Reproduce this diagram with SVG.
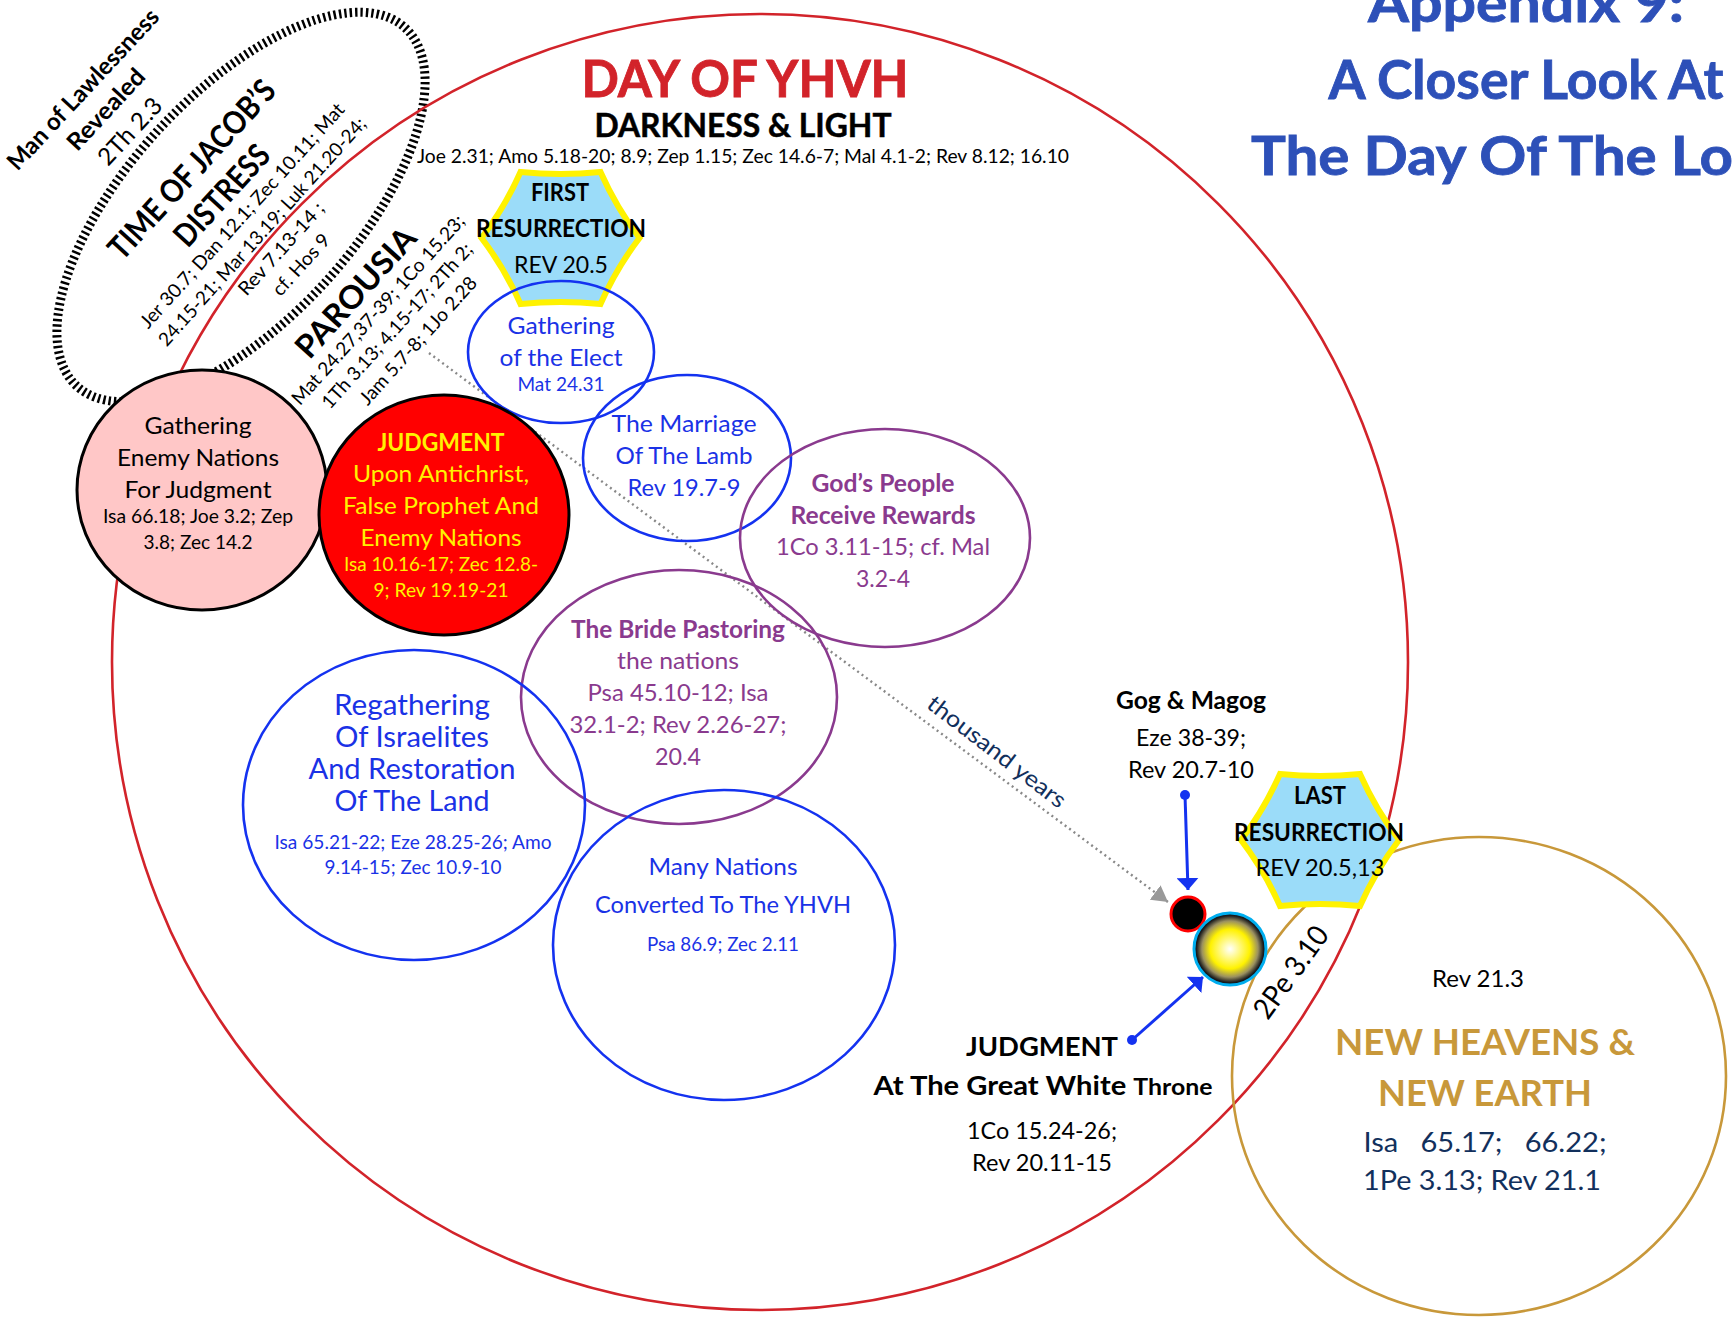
<svg xmlns="http://www.w3.org/2000/svg" width="1733" height="1323" viewBox="0 0 1733 1323">
<style>
text{font-family:"Lato","Open Sans",sans-serif;text-anchor:middle;fill:#000;font-size:24px}
.b{font-weight:700}
.s{font-size:19px}
.blue{fill:#1a32e6}
.pur{fill:#8a3a8e}
.yel{fill:#fff200}
.navy{fill:#12305c}
.gold{fill:#c8983a}
.ttl{fill:#2d50b8;stroke:#2d50b8;stroke-width:.8;font-weight:700;font-size:53px}
.e{fill:none;stroke-width:2.6}
.eb{stroke:#1432f0}
.ep{stroke:#8a3a8e}
.hex{fill:#9bdcf9;stroke:#fff200;stroke-width:6}
.conn{stroke:#1432f0;stroke-width:3;fill:none}
</style>
<defs>
<path id="hexa" d="M-40 -66Q0 -62 40 -66Q56 -30 79 0Q56 30 40 66Q0 62 -40 66Q-56 30 -79 0Q-56 -30 -40 -66Z"/>
<radialGradient id="sun"><stop offset="0" stop-color="#fff"/><stop offset=".55" stop-color="#fff200"/><stop offset=".78" stop-color="#9a9060"/><stop offset=".92" stop-color="#222"/><stop offset="1" stop-color="#000"/></radialGradient>
<marker id="ah" markerUnits="userSpaceOnUse" markerWidth="14" markerHeight="22" refX="12" refY="11" orient="auto"><path d="M0 0L12 11L0 22Z" fill="#1432f0"/></marker>
<marker id="dot" markerUnits="userSpaceOnUse" markerWidth="12" markerHeight="12" refX="6" refY="6"><circle cx="6" cy="6" r="5" fill="#1432f0"/></marker>
<marker id="gh" markerUnits="userSpaceOnUse" markerWidth="20" markerHeight="18" refX="16" refY="9" orient="auto"><path d="M0 0L16 9L0 18Z" fill="#999"/></marker>
</defs>
<rect width="1733" height="1323" fill="#fff"/>

<g id="title">
<text class="ttl" x="1526" y="22" textLength="316" lengthAdjust="spacingAndGlyphs">Appendix 9:</text>
<text class="ttl" x="1526" y="99" textLength="395" lengthAdjust="spacingAndGlyphs">A Closer Look At</text>
<text class="ttl" x="1492" y="175" textLength="482" lengthAdjust="spacingAndGlyphs">The Day Of The Lo</text>
</g>

<g id="jacob-distress">
<ellipse cx="241" cy="207" rx="243" ry="113" transform="rotate(-47.5 241 207)" fill="none" stroke="#000" stroke-width="9" stroke-dasharray="2.4 3"/>
</g>

<g id="day-of-yhvh">
<circle cx="760" cy="662" r="648" fill="none" stroke="#d2232a" stroke-width="2.6"/>
<text x="745" y="97" class="b" style="font-size:51px;fill:#d2232a;stroke:#d2232a;stroke-width:.8" textLength="327" lengthAdjust="spacingAndGlyphs">DAY OF YHVH</text>
<text x="743" y="137" class="b" style="font-size:32px;stroke:#000;stroke-width:.5" textLength="297" lengthAdjust="spacingAndGlyphs">DARKNESS &amp; LIGHT</text>
<text x="743" y="163" style="font-size:19px" textLength="652" lengthAdjust="spacingAndGlyphs">Joe 2.31; Amo 5.18-20; 8.9; Zep 1.15; Zec 14.6-7; Mal 4.1-2; Rev 8.12; 16.10</text>
</g>

<g id="man-of-lawlessness">
<text class="b" transform="translate(89 95) rotate(-47)" textLength="210" lengthAdjust="spacingAndGlyphs">Man of Lawlessness</text>
<text class="b" transform="translate(112 115) rotate(-47)" textLength="102" lengthAdjust="spacingAndGlyphs">Revealed</text>
<text transform="translate(136 137) rotate(-47)" textLength="82" lengthAdjust="spacingAndGlyphs">2Th 2.3</text>
</g>

<g id="time-of-jacobs-distress">
<text class="b" style="font-size:32px" transform="translate(200 177) rotate(-47.5)" textLength="230" lengthAdjust="spacingAndGlyphs">TIME OF JACOB’S</text>
<text class="b" style="font-size:32px" transform="translate(230 203) rotate(-47.5)" textLength="125" lengthAdjust="spacingAndGlyphs">DISTRESS</text>
<text class="s" transform="translate(247 220) rotate(-48)" textLength="295" lengthAdjust="spacingAndGlyphs">Jer 30.7; Dan 12.1; Zec 10.11; Mat</text>
<text class="s" transform="translate(267 236) rotate(-48)" textLength="300" lengthAdjust="spacingAndGlyphs">24.15-21; Mar 13.19; Luk 21.20-24;</text>
<text class="s" transform="translate(286 253) rotate(-48)" textLength="118" lengthAdjust="spacingAndGlyphs">Rev 7.13-14 ;</text>
<text class="s" transform="translate(306 269) rotate(-48)" textLength="76" lengthAdjust="spacingAndGlyphs">cf. Hos 9</text>
</g>

<g id="parousia">
<text class="b" style="font-size:32px" transform="translate(364 300) rotate(-48)" textLength="163" lengthAdjust="spacingAndGlyphs">PAROUSIA</text>
<text class="s" transform="translate(383 314) rotate(-48)" textLength="248" lengthAdjust="spacingAndGlyphs">Mat 24.27,37-39; 1Co 15.23;</text>
<text class="s" transform="translate(402 330) rotate(-48)" textLength="215" lengthAdjust="spacingAndGlyphs">1Th 3.13; 4.15-17; 2Th 2;</text>
<text class="s" transform="translate(423 345) rotate(-48)" textLength="165" lengthAdjust="spacingAndGlyphs">Jam 5.7-8; 1Jo 2.28</text>
</g>

<g id="new-heavens">
<ellipse cx="1479" cy="1076" rx="247" ry="239" fill="none" stroke="#c8983a" stroke-width="2.6"/>
<text x="1478" y="987" textLength="92" lengthAdjust="spacingAndGlyphs">Rev 21.3</text>
<text x="1485" y="1055" class="b gold" style="font-size:37px" textLength="300" lengthAdjust="spacingAndGlyphs">NEW HEAVENS &amp;</text>
<text x="1485" y="1106" class="b gold" style="font-size:37px" textLength="214" lengthAdjust="spacingAndGlyphs">NEW EARTH</text>
<text x="1485" y="1152" class="navy" style="font-size:27px;white-space:pre" textLength="243" lengthAdjust="spacingAndGlyphs">Isa   65.17;   66.22;</text>
<text x="1482" y="1190" class="navy" style="font-size:27px" textLength="238" lengthAdjust="spacingAndGlyphs">1Pe 3.13; Rev 21.1</text>
<text style="font-size:29px" transform="translate(1299 978) rotate(-54)" textLength="106" lengthAdjust="spacingAndGlyphs">2Pe 3.10</text>
</g>

<g id="connectors">
<line x1="429" y1="353" x2="1168" y2="902" stroke="#888" stroke-width="2.4" stroke-dasharray="2 3.5" marker-end="url(#gh)"/>
<line class="conn" x1="1185" y1="795" x2="1188" y2="890" marker-start="url(#dot)" marker-end="url(#ah)"/>
<line class="conn" x1="1132" y1="1040" x2="1203" y2="977" marker-start="url(#dot)" marker-end="url(#ah)"/>
</g>

<g id="first-resurrection">
<use href="#hexa" class="hex" x="560.5" y="238"/>
<text x="560" y="201" class="b" textLength="58" lengthAdjust="spacingAndGlyphs">FIRST</text>
<text x="561" y="237" class="b" textLength="170" lengthAdjust="spacingAndGlyphs">RESURRECTION</text>
<text x="561" y="273" textLength="94" lengthAdjust="spacingAndGlyphs">REV 20.5</text>
</g>

<g id="last-resurrection">
<use href="#hexa" class="hex" x="1320" y="840"/>
<text x="1320" y="804" class="b" textLength="52" lengthAdjust="spacingAndGlyphs">LAST</text>
<text x="1319" y="841" class="b" textLength="170" lengthAdjust="spacingAndGlyphs">RESURRECTION</text>
<text x="1320" y="876" textLength="129" lengthAdjust="spacingAndGlyphs">REV 20.5,13</text>
</g>

<g id="gathering-elect">
<ellipse class="e eb" cx="561" cy="352" rx="93" ry="71"/>
<text x="561" y="334" class="blue" textLength="107" lengthAdjust="spacingAndGlyphs">Gathering</text>
<text x="561" y="366" class="blue" textLength="123" lengthAdjust="spacingAndGlyphs">of the Elect</text>
<text x="561" y="391" class="blue s" textLength="87" lengthAdjust="spacingAndGlyphs">Mat 24.31</text>
</g>

<g id="gathering-nations">
<ellipse cx="202" cy="490" rx="125" ry="120" fill="#ffc7c7" stroke="#000" stroke-width="3"/>
<text x="198" y="434" textLength="107" lengthAdjust="spacingAndGlyphs">Gathering</text>
<text x="198" y="466" textLength="162" lengthAdjust="spacingAndGlyphs">Enemy Nations</text>
<text x="198" y="498" textLength="147" lengthAdjust="spacingAndGlyphs">For Judgment</text>
<text x="198" y="523" class="s" textLength="190" lengthAdjust="spacingAndGlyphs">Isa 66.18; Joe 3.2; Zep</text>
<text x="198" y="549" class="s" textLength="109" lengthAdjust="spacingAndGlyphs">3.8; Zec 14.2</text>
</g>

<g id="judgment-antichrist">
<ellipse cx="444" cy="515" rx="125" ry="120" fill="#f00" stroke="#000" stroke-width="3"/>
<text x="441" y="451" class="b yel" textLength="127" lengthAdjust="spacingAndGlyphs">JUDGMENT</text>
<text x="441" y="482" class="yel" textLength="176" lengthAdjust="spacingAndGlyphs">Upon Antichrist,</text>
<text x="441" y="514" class="yel" textLength="196" lengthAdjust="spacingAndGlyphs">False Prophet And</text>
<text x="441" y="546" class="yel" textLength="161" lengthAdjust="spacingAndGlyphs">Enemy Nations</text>
<text x="441" y="571" class="yel s" textLength="194" lengthAdjust="spacingAndGlyphs">Isa 10.16-17; Zec 12.8-</text>
<text x="441" y="597" class="yel s" textLength="135" lengthAdjust="spacingAndGlyphs">9; Rev 19.19-21</text>
</g>

<g id="marriage">
<ellipse class="e eb" cx="687" cy="458" rx="104" ry="83"/>
<text x="684" y="432" class="blue" textLength="145" lengthAdjust="spacingAndGlyphs">The Marriage</text>
<text x="684" y="464" class="blue" textLength="137" lengthAdjust="spacingAndGlyphs">Of The Lamb</text>
<text x="684" y="496" class="blue" textLength="113" lengthAdjust="spacingAndGlyphs">Rev 19.7-9</text>
</g>

<g id="rewards">
<ellipse class="e ep" cx="885" cy="538" rx="145" ry="109"/>
<text x="883" y="492" class="b pur" textLength="143" lengthAdjust="spacingAndGlyphs">God’s People</text>
<text x="883" y="524" class="b pur" textLength="185" lengthAdjust="spacingAndGlyphs">Receive Rewards</text>
<text x="883" y="555" class="pur" textLength="214" lengthAdjust="spacingAndGlyphs">1Co 3.11-15; cf. Mal</text>
<text x="883" y="587" class="pur" textLength="54" lengthAdjust="spacingAndGlyphs">3.2-4</text>
</g>

<g id="bride">
<ellipse class="e ep" cx="679" cy="697" rx="158" ry="127"/>
<text x="678" y="638" class="b pur" textLength="214" lengthAdjust="spacingAndGlyphs">The Bride Pastoring</text>
<text x="678" y="669" class="pur" textLength="122" lengthAdjust="spacingAndGlyphs">the nations</text>
<text x="678" y="701" class="pur" textLength="181" lengthAdjust="spacingAndGlyphs">Psa 45.10-12; Isa</text>
<text x="678" y="733" class="pur" textLength="217" lengthAdjust="spacingAndGlyphs">32.1-2; Rev 2.26-27;</text>
<text x="678" y="765" class="pur" textLength="46" lengthAdjust="spacingAndGlyphs">20.4</text>
</g>

<g id="regathering">
<ellipse class="e eb" cx="414" cy="805" rx="171" ry="155"/>
<text x="412" y="715" class="blue" style="font-size:28px" textLength="156" lengthAdjust="spacingAndGlyphs">Regathering</text>
<text x="412" y="747" class="blue" style="font-size:28px" textLength="154" lengthAdjust="spacingAndGlyphs">Of Israelites</text>
<text x="412" y="779" class="blue" style="font-size:28px" textLength="207" lengthAdjust="spacingAndGlyphs">And Restoration</text>
<text x="412" y="811" class="blue" style="font-size:28px" textLength="155" lengthAdjust="spacingAndGlyphs">Of The Land</text>
<text x="413" y="849" class="blue s" textLength="277" lengthAdjust="spacingAndGlyphs">Isa 65.21-22; Eze 28.25-26; Amo</text>
<text x="413" y="874" class="blue s" textLength="177" lengthAdjust="spacingAndGlyphs">9.14-15; Zec 10.9-10</text>
</g>

<g id="many-nations">
<ellipse class="e eb" cx="724" cy="945" rx="171" ry="155"/>
<text x="723" y="875" class="blue" textLength="149" lengthAdjust="spacingAndGlyphs">Many Nations</text>
<text x="723" y="913" class="blue" textLength="256" lengthAdjust="spacingAndGlyphs">Converted To The YHVH</text>
<text x="723" y="951" class="blue s" textLength="152" lengthAdjust="spacingAndGlyphs">Psa 86.9; Zec 2.11</text>
</g>

<g id="thousand-years">
<text class="navy" style="font-size:23px" transform="translate(992 758) rotate(37.5)" textLength="168" lengthAdjust="spacingAndGlyphs">thousand years</text>
</g>

<g id="gog-magog">
<circle cx="1188" cy="914" r="17" fill="#000" stroke="#f00" stroke-width="3"/>
<text x="1191" y="709" class="b" textLength="150" lengthAdjust="spacingAndGlyphs">Gog &amp; Magog</text>
<text x="1191" y="746" textLength="110" lengthAdjust="spacingAndGlyphs">Eze 38-39;</text>
<text x="1191" y="778" textLength="126" lengthAdjust="spacingAndGlyphs">Rev 20.7-10</text>
</g>

<g id="great-white-throne">
<circle cx="1230" cy="949" r="36" fill="url(#sun)" stroke="#00aeef" stroke-width="3"/>
<text x="1042" y="1056" class="b" style="font-size:27px" textLength="152" lengthAdjust="spacingAndGlyphs">JUDGMENT</text>
<text x="1043" y="1095" class="b" style="font-size:27px" textLength="339" lengthAdjust="spacingAndGlyphs">At The Great White <tspan style="font-size:23px">Throne</tspan></text>
<text x="1042" y="1139" textLength="150" lengthAdjust="spacingAndGlyphs">1Co 15.24-26;</text>
<text x="1042" y="1171" textLength="140" lengthAdjust="spacingAndGlyphs">Rev 20.11-15</text>
</g>
</svg>
